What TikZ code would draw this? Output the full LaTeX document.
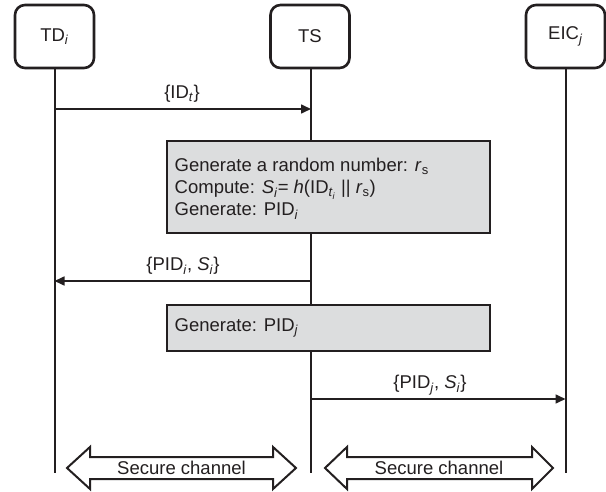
\documentclass[tikz,border=0pt]{standalone}
\usepackage{fontspec}
\setmainfont{Liberation Sans}
\usetikzlibrary{arrows.meta}
\definecolor{ink}{HTML}{231F20}
\definecolor{boxgray}{HTML}{DCDDDE}
\newcommand{\sbi}[1]{\textsubscript{\textit{#1}}}
\begin{document}
\begin{tikzpicture}[x=1pt,y=-1pt,
  every node/.style={font=\fontsize{18.5}{22}\selectfont, text=ink},
  actor/.style={draw=ink, line width=2.6pt, rounded corners=10pt, minimum width=79pt, minimum height=63pt, inner sep=0pt},
  lifeline/.style={draw=ink, line width=2pt},
  msg/.style={draw=ink, line width=1.6pt, -{Triangle[length=10pt,width=9pt]}},
  procbox/.style={draw=ink, fill=boxgray, line width=2.5pt, minimum width=323pt, inner sep=0pt},
  proctext/.style={anchor=west, align=left, inner sep=0pt},
  chan/.style={draw=ink, line width=2pt, fill=white, line join=miter}
]
\useasboundingbox (0,0) rectangle (606,492);

% actors
\node[actor] (td) at (54.5,36.5) {TD\sbi{i}};
\node[actor] (ts) at (310,36.5) {TS};
\node[actor] (eic) at (565.5,36.5) {EIC\sbi{j}};

% lifeline ends
\coordinate (tdend) at (td.south |- 0,473);
\coordinate (tsend) at (311,473);
\coordinate (eicend) at (eic.south |- 0,473);
\draw[lifeline] (td.south) -- (tdend);
\draw[lifeline] (311,68) -- (tsend);
\draw[lifeline] (eic.south) -- (eicend);

% message points
\coordinate (m1a) at (td.south |- 0,109);
\coordinate (m1b) at (311,109);
\coordinate (m2a) at (311,281);
\coordinate (m2b) at (td.south |- 0,281);
\coordinate (m3a) at (311,399);
\coordinate (m3b) at (eic.south |- 0,399);

\draw[msg] (m1a) -- (m1b);
\node (l1) at (182,94) {\{ID\sbi{t}\}};

% process box 1
\node[procbox, minimum height=92pt] (p1) at (328.5,187) {};
\node[proctext] (p1t) at (174.5,189) {Generate a random number: \textit{r}\textsubscript{s}\\
Compute: \textit{S}\sbi{i}= \textit{h}(ID\textsubscript{\textit{t}\textsubscript{\textit{i}}} || \textit{r}\textsubscript{s})\\
Generate: PID\sbi{i}};

\draw[msg] (m2a) -- (m2b);
\node (l2) at (183,266) {\{PID\sbi{i}, \textit{S}\sbi{i}\}};

% process box 2
\node[procbox, minimum height=46pt] (p2) at (328.5,328) {};
\node[proctext] (p2t) at (174.5,328) {Generate: PID\sbi{j}};

\draw[msg] (m3a) -- (m3b);
\node (l3) at (430,385) {\{PID\sbi{j}, \textit{S}\sbi{i}\}};

% secure channels
\draw[chan] (67,468) -- (90,447) -- (90,457) -- (273,457) -- (273,447) -- (296,468)
  -- (273,489) -- (273,479) -- (90,479) -- (90,489) -- cycle;
\node (c1) at (181.5,468) {Secure channel};
\draw[chan] (325,468) -- (347,447) -- (347,457) -- (532,457) -- (532,447) -- (553,468)
  -- (532,489) -- (532,479) -- (347,479) -- (347,489) -- cycle;
\node (c2) at (439,468) {Secure channel};
\end{tikzpicture}
\end{document}
